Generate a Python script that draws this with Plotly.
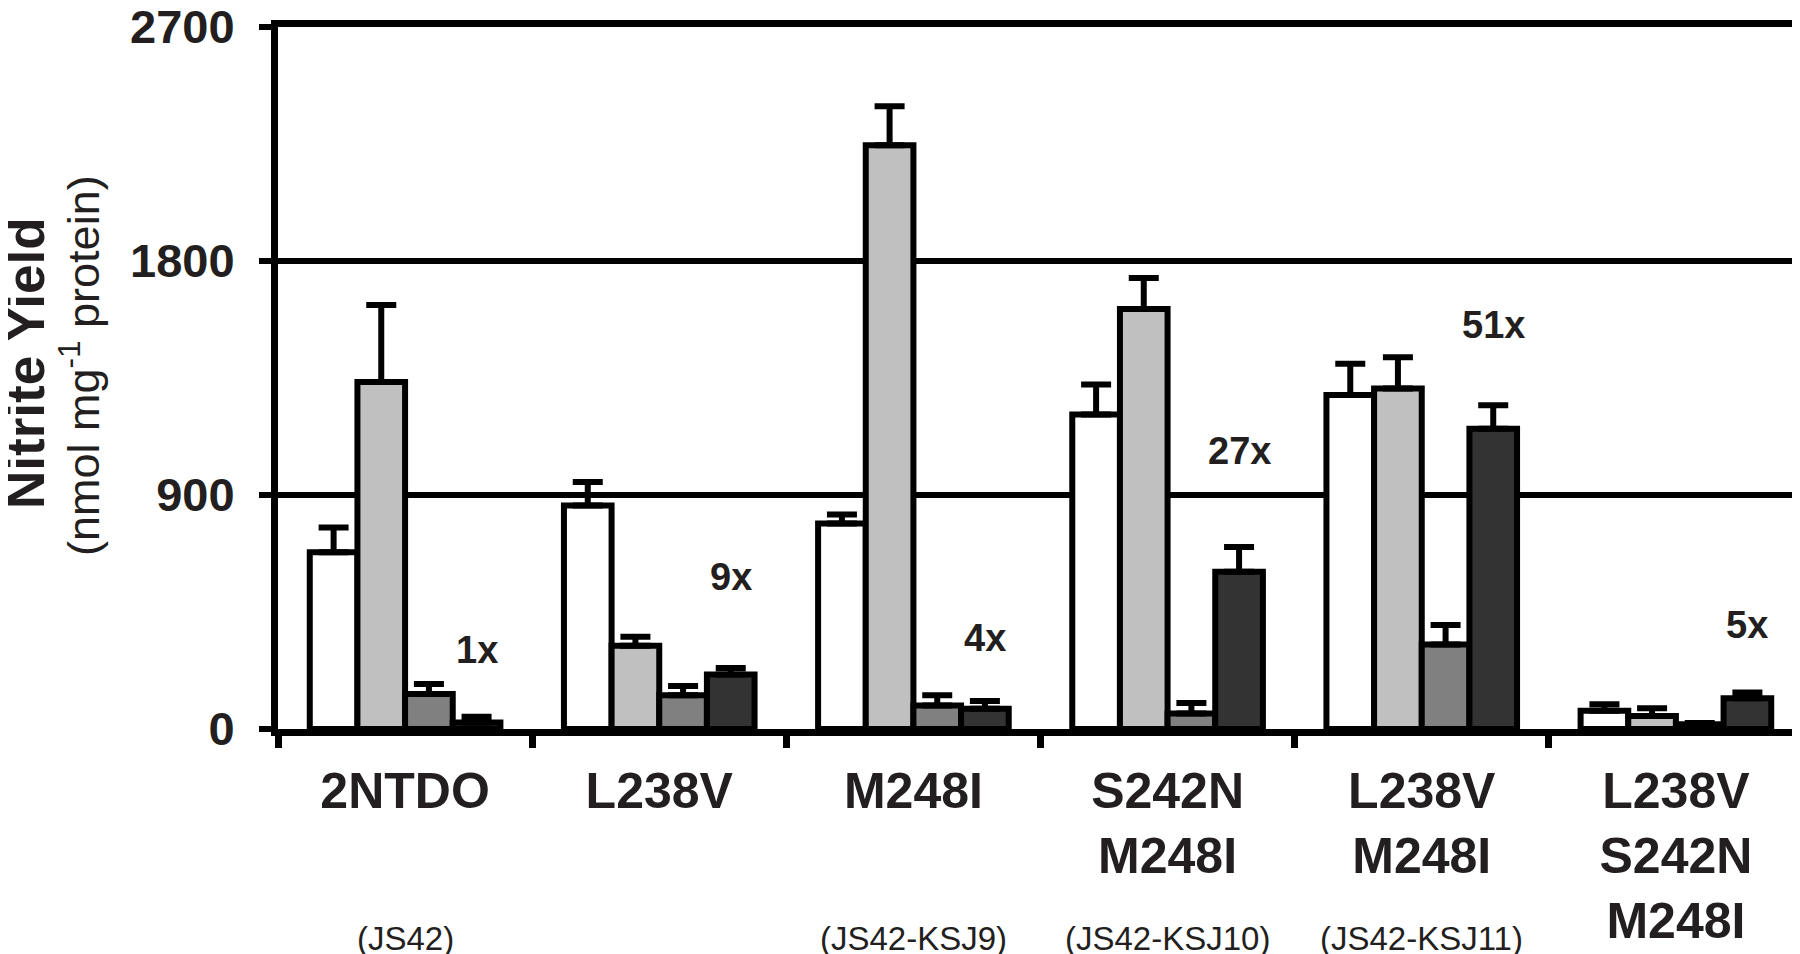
import plotly.graph_objects as go

# ---- data ----
categories = ["2NTDO", "L238V", "M248I", "S242N M248I", "L238V M248I", "L238V S242N M248I"]
tick_labels = ["2NTDO", "L238V", "M248I", "S242N<br>M248I", "L238V<br>M248I", "L238V<br>S242N<br>M248I"]
strain_labels = ["(JS42)", "", "(JS42-KSJ9)", "(JS42-KSJ10)", "(JS42-KSJ11)", ""]

series1 = [680, 860, 790, 1210, 1285, 70]
series2 = [1335, 320, 2245, 1615, 1310, 50]
series3 = [135, 130, 90, 60, 325, 18]
series4 = [25, 210, 78, 605, 1155, 118]

err1 = [95, 90, 35, 115, 120, 25]
err2 = [296, 35, 150, 120, 120, 30]
err3 = [38, 35, 40, 40, 75, 5]
err4 = [22, 25, 30, 95, 90, 22]

fold_labels = ["1x", "9x", "4x", "27x", "51x", "5x"]
fold_y = [305, 584, 350, 1071, 1555, 399]

y_ticks = [0, 900, 1800, 2700]

# ---- styling ----
FONT = "Arial, Liberation Sans, sans-serif"
TXT = "#231f20"
fills = ["#ffffff", "#c0c0c0", "#808080", "#333333"]

fig = go.Figure()
for vals, errs, col in zip([series1, series2, series3, series4],
                           [err1, err2, err3, err4], fills):
    fig.add_trace(go.Bar(
        x=categories, y=vals,
        marker=dict(color=col, line=dict(color="black", width=6)),
        error_y=dict(type="data", array=errs, arrayminus=[0] * len(errs),
                     symmetric=False, thickness=6, width=15, color="black"),
        showlegend=False,
        hoverinfo="skip",
    ))

W, H = 1800, 954
L, R, T, B = 270, 5, 19, 233
pw, ph = W - L - R, H - T - B
bar_w = pw / len(categories) * 0.75 / 4

annotations = []
for c, lab, yv in zip(categories, fold_labels, fold_y):
    annotations.append(dict(
        x=c, y=yv, xref="x", yref="y", text=lab, showarrow=False,
        xshift=1.5 * bar_w, yanchor="middle",
        font=dict(family=FONT, size=38, color=TXT, weight="bold")))
for c, lab in zip(categories, strain_labels):
    if lab:
        annotations.append(dict(
            x=c, y=(721 - 930) / ph, xref="x", yref="paper", text=lab,
            showarrow=False, yanchor="middle",
            font=dict(family=FONT, size=33, color=TXT)))

annotations.append(dict(
    x=(17 - L) / pw, y=(721 - 355) / ph, xref="paper", yref="paper",
    text="<b>Nitrite Yield</b>", textangle=-90, showarrow=False,
    xanchor="center", yanchor="middle",
    font=dict(family=FONT, size=53, color=TXT)))
annotations.append(dict(
    x=(72 - L) / pw, y=(721 - 357) / ph, xref="paper", yref="paper",
    text="(nmol mg<sup>-1</sup> protein)", textangle=-90, showarrow=False,
    xanchor="center", yanchor="middle",
    font=dict(family=FONT, size=45, color=TXT)))

fig.update_layout(
    width=W, height=H,
    margin=dict(l=L, r=R, t=T, b=B, autoexpand=False),
    paper_bgcolor="white", plot_bgcolor="white",
    barmode="group", bargap=0.25, bargroupgap=0,
    annotations=annotations,
)
fig.update_xaxes(
    type="category", tickvals=categories, ticktext=tick_labels,
    showline=True, linecolor="black", linewidth=7, mirror=True,
    ticks="outside", tickson="boundaries", ticklen=12, tickwidth=7, tickcolor="black",
    tickfont=dict(family=FONT, size=50, color=TXT, weight="bold"),
    ticklabelstandoff=12,
    showgrid=False,
)
fig.update_yaxes(
    range=[0, 2700], tickvals=y_ticks, ticktext=[str(v) for v in y_ticks],
    showgrid=True, gridcolor="black", gridwidth=6, zeroline=False,
    showline=True, linecolor="black", linewidth=7, mirror=True,
    ticks="outside", ticklen=12, tickwidth=6, tickcolor="black",
    tickfont=dict(family=FONT, size=47, color=TXT, weight="bold"),
    ticklabelstandoff=15, ticklabeloverflow="allow",
)

fig.write_html("out.html")
